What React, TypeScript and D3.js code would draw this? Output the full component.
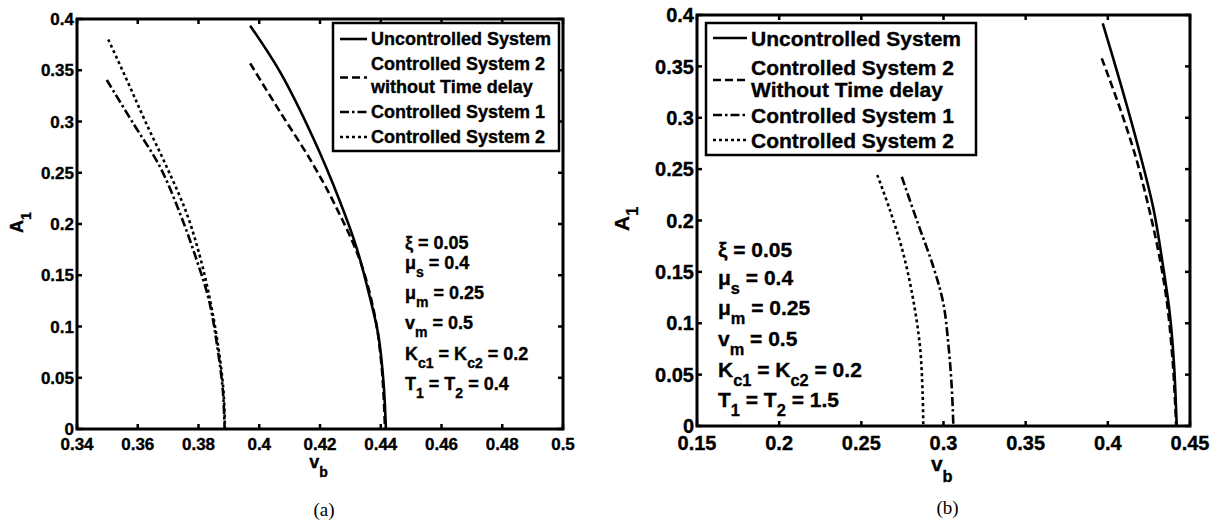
import React from "react";
import * as d3 from "d3";

// ---- panel (a) : T1 = T2 = 0.4 ----  [v_b, A_1]
const aUncontrolled: [number, number][] = [
  [0.397, 0.3935], [0.4068, 0.3486], [0.4178, 0.2836], [0.4266, 0.2218], [0.4321, 0.1763],
  [0.4365, 0.1275], [0.4392, 0.0917], [0.4409, 0.046], [0.4417, 0],
];
const aNoDelay: [number, number][] = [
  [0.397, 0.3567], [0.4068, 0.3096], [0.4172, 0.2608], [0.4255, 0.2153], [0.4333, 0.1633],
  [0.438, 0.1112], [0.44, 0.07], [0.4409, 0.035], [0.4414, 0],
];
const aCtrl1: [number, number][] = [
  [0.3498, 0.3405], [0.3585, 0.2982], [0.3673, 0.2559], [0.3739, 0.2104], [0.3794, 0.1649],
  [0.3835, 0.125], [0.3862, 0.08], [0.388, 0.038], [0.3886, 0],
];
const aCtrl2: [number, number][] = [
  [0.3503, 0.38], [0.3569, 0.3373], [0.3625, 0.3], [0.3695, 0.2559], [0.3761, 0.2104],
  [0.3805, 0.168], [0.3838, 0.1259], [0.3865, 0.0803], [0.3882, 0.038], [0.3887, 0],
];

// ---- panel (b) : T1 = T2 = 1.5 ----
const bUncontrolled: [number, number][] = [
  [0.3969, 0.3919], [0.4074, 0.3351], [0.4176, 0.2767], [0.4277, 0.2119], [0.4338, 0.1535],
  [0.4378, 0.108], [0.4403, 0.0594], [0.4419, 0],
];
const bNoDelay: [number, number][] = [
  [0.3963, 0.3578], [0.4074, 0.3092], [0.4172, 0.2605], [0.425, 0.2119], [0.4312, 0.1664],
  [0.436, 0.12], [0.4396, 0.06], [0.4416, 0],
];
const bCtrl1: [number, number][] = [
  [0.2746, 0.2426], [0.2837, 0.2005], [0.2938, 0.155], [0.2999, 0.1194], [0.3029, 0.0805],
  [0.305, 0.0383], [0.306, 0],
];
const bCtrl2: [number, number][] = [
  [0.2597, 0.2443], [0.2674, 0.2102], [0.2755, 0.168], [0.2816, 0.1226], [0.2857, 0.0772],
  [0.2873, 0.0318], [0.2877, 0],
];

const xTicksA = [0.34, 0.36, 0.38, 0.4, 0.42, 0.44, 0.46, 0.48, 0.5];
const xTicksB = [0.15, 0.2, 0.25, 0.3, 0.35, 0.4, 0.45];
const yTicks = [0, 0.05, 0.1, 0.15, 0.2, 0.25, 0.3, 0.35, 0.4];

const legendA = ["Uncontrolled System", "Controlled System 2", "without Time delay", "Controlled System 1", "Controlled System 2"];
const legendB = ["Uncontrolled System", "Controlled System 2", "Without Time delay", "Controlled System 1", "Controlled System 2"];

// text segments, 1 = subscript
type Seg = [string, number];
const notesA: Seg[][] = [
  [["ξ = 0.05", 0]],
  [["μ", 0], ["s", 1], [" = 0.4", 0]],
  [["μ", 0], ["m", 1], [" = 0.25", 0]],
  [["v", 0], ["m", 1], [" = 0.5", 0]],
  [["K", 0], ["c1", 1], [" = K", 0], ["c2", 1], [" = 0.2", 0]],
  [["T", 0], ["1", 1], [" = T", 0], ["2", 1], [" = 0.4", 0]],
];
const notesB: Seg[][] = notesA.slice(0, 5).concat([[["T", 0], ["1", 1], [" = T", 0], ["2", 1], [" = 1.5", 0]]]);

const DASH = ["none", "8,4", "9,3,2.5,3", "3,3"];
const FONT = "'Liberation Sans', Arial, Helvetica, sans-serif";
const BOLD = { fontWeight: "bold" as const, fontFamily: FONT, stroke: "#000", strokeWidth: 0.35 };

const fmt = d3.format("~g");

function Sub({ segs, x, y, fs, dy }: { segs: Seg[]; x: number; y: number; fs: number; dy: number }) {
  let prev = 0;
  return (
    <text x={x} y={y} fontSize={fs} {...BOLD}>
      {segs.map(([t, s], i) => {
        const shift = (s - prev) * dy;
        prev = s;
        return (
          <tspan key={i} dy={shift} fontSize={s ? fs * 0.78 : fs}>
            {t}
          </tspan>
        );
      })}
    </text>
  );
}

type PanelProps = {
  left: number; right: number; top: number; bottom: number;
  xDomain: [number, number]; xTicks: number[];
  series: [number, number][][];
  fs: number; tickFs: number;
  legend: string[]; lgBox: [number, number, number, number]; lgRows: number[]; lgTextX: number;
  notes: Seg[][]; noteX: number; noteY: number[];
  yLabelX: number; xLabelY: number; caption: string; captionY: number;
};

function Panel(p: PanelProps) {
  const x = d3.scaleLinear().domain(p.xDomain).range([p.left, p.right]);
  const y = d3.scaleLinear().domain([0, 0.4]).range([p.bottom, p.top]);
  const line = d3.line<[number, number]>().x((d) => x(d[0])).y((d) => y(d[1])).curve(d3.curveCatmullRom);
  const tl = 5;
  const cx = (p.left + p.right) / 2;
  const cy = (p.top + p.bottom) / 2;
  const [lx0, ly0, lx1, ly1] = p.lgBox;
  const sampleY = [p.lgRows[0], (p.lgRows[1] + p.lgRows[2]) / 2 + 2, p.lgRows[3], p.lgRows[4]];
  return (
    <g>
      {p.series.map((s, i) => (
        <path key={i} d={line(s) || ""} fill="none" stroke="#000" strokeWidth={2.6} strokeDasharray={DASH[i]} />
      ))}
      {/* ticks */}
      {p.xTicks.map((t) => (
        <g key={"x" + t}>
          <line x1={x(t)} x2={x(t)} y1={p.bottom} y2={p.bottom - tl} stroke="#000" strokeWidth={2.5} />
          <line x1={x(t)} x2={x(t)} y1={p.top} y2={p.top + tl} stroke="#000" strokeWidth={2.5} />
          <text x={x(t)} y={p.bottom + p.tickFs * 1.22} textAnchor="middle" fontSize={p.tickFs} {...BOLD}>
            {fmt(t)}
          </text>
        </g>
      ))}
      {yTicks.map((t) => (
        <g key={"y" + t}>
          <line x1={p.left} x2={p.left + tl} y1={y(t)} y2={y(t)} stroke="#000" strokeWidth={2.5} />
          <line x1={p.right} x2={p.right - tl} y1={y(t)} y2={y(t)} stroke="#000" strokeWidth={2.5} />
          <text x={p.left - 3} y={y(t) + p.tickFs * 0.36} textAnchor="end" fontSize={p.tickFs} {...BOLD}>
            {fmt(t)}
          </text>
        </g>
      ))}
      <rect x={p.left} y={p.top} width={p.right - p.left} height={p.bottom - p.top} fill="none" stroke="#000" strokeWidth={3} />
      {/* legend */}
      <rect x={lx0} y={ly0} width={lx1 - lx0} height={ly1 - ly0} fill="#fff" stroke="#000" strokeWidth={2.5} />
      {p.legend.map((t, i) => (
        <text key={i} x={p.lgTextX} y={p.lgRows[i] + p.fs * 0.36} fontSize={p.fs} {...BOLD}>
          {t}
        </text>
      ))}
      {sampleY.map((sy, i) => (
        <line key={i} x1={lx0 + 7} x2={p.lgTextX - 4} y1={sy} y2={sy} stroke="#000" strokeWidth={2.6} strokeDasharray={DASH[i]} />
      ))}
      {/* parameter notes */}
      {p.notes.map((segs, i) => (
        <Sub key={i} segs={segs} x={p.noteX} y={p.noteY[i]} fs={p.fs} dy={p.fs * 0.45} />
      ))}
      {/* axis labels */}
      <g transform={`translate(${p.yLabelX},${cy}) rotate(-90)`}>
        <Sub segs={[["A", 0], ["1", 1]]} x={-p.fs * 0.5} y={0} fs={p.fs} dy={p.fs * 0.45} />
      </g>
      <Sub segs={[["v", 0], ["b", 1]]} x={cx - p.fs * 0.6} y={p.xLabelY} fs={p.fs} dy={p.fs * 0.5} />
      <text x={cx + 4} y={p.captionY} textAnchor="middle" fontSize={19} fontFamily="'Liberation Serif', 'Times New Roman', serif">
        {p.caption}
      </text>
    </g>
  );
}

export default function App() {
  return (
    <svg width={1222} height={525} style={{ position: "absolute", left: 0, top: 0, background: "#fff" }}>
      <Panel
        left={77} right={563} top={19} bottom={429}
        xDomain={[0.34, 0.5]} xTicks={xTicksA}
        series={[aUncontrolled, aNoDelay, aCtrl1, aCtrl2]}
        fs={18} tickFs={17}
        legend={legendA} lgBox={[333, 23, 559, 151]} lgRows={[39, 64, 87, 112, 137]} lgTextX={371}
        notes={notesA} noteX={405} noteY={[249, 269, 299, 329, 360, 390]}
        yLabelX={23} xLabelY={468} caption="(a)" captionY={516}
      />
      <Panel
        left={697} right={1190} top={15} bottom={426}
        xDomain={[0.15, 0.45]} xTicks={xTicksB}
        series={[bUncontrolled, bNoDelay, bCtrl1, bCtrl2]}
        fs={21} tickFs={20}
        legend={legendB} lgBox={[706, 23, 976, 155]} lgRows={[38, 67, 89, 115, 140]} lgTextX={751}
        notes={notesB} noteX={718} noteY={[257, 285, 315, 346, 377, 407]}
        yLabelX={629} xLabelY={471} caption="(b)" captionY={514}
      />
    </svg>
  );
}
